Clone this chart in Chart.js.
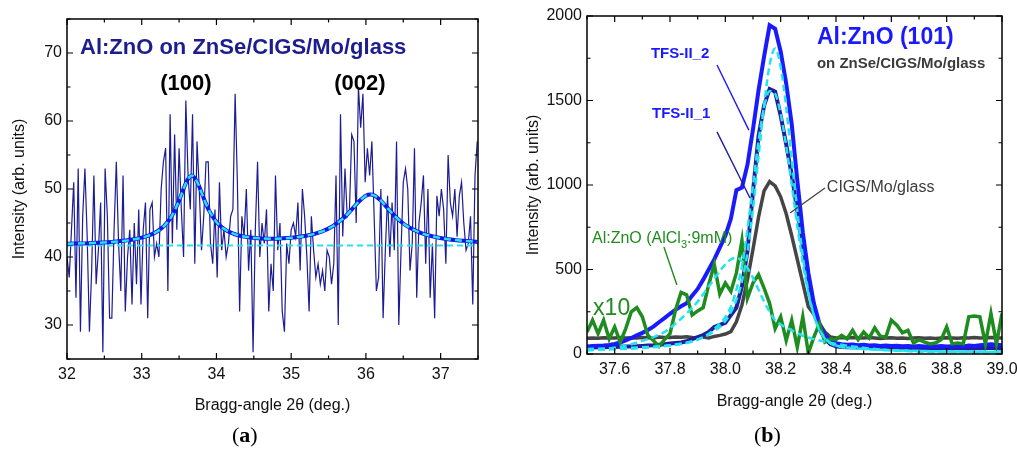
<!DOCTYPE html>
<html>
<head>
<meta charset="utf-8">
<script src="https://cdn.jsdelivr.net/npm/chart.js@4.4.0/dist/chart.umd.min.js"></script>
<style>
  html, body { margin: 0; padding: 0; background: #fff; }
  #wrap { position: relative; width: 1017px; height: 450px; overflow: hidden; }
  .box { position: absolute; top: 0; height: 450px; }
  #boxA { left: 0; width: 500px; }
  #boxB { left: 500px; width: 517px; }
  .tag { position: absolute; top: 424px; line-height: 22px; font-size: 22px;
         font-family: "Liberation Serif", "DejaVu Serif", serif; color: #000; }
</style>
</head>
<body>
<div id="wrap">
  <div class="box" id="boxA"><canvas id="chartA"></canvas></div>
  <div class="box" id="boxB"><canvas id="chartB"></canvas></div>
  <div class="tag" style="left:232px">(<b>a</b>)</div>
  <div class="tag" style="left:754px">(<b>b</b>)</div>
</div>
<script>
const FONT = "'Liberation Sans', Arial, sans-serif";

// ---- panel (a): Al:ZnO on ZnSe/CIGS/Mo/glass, 2theta 32..37.5, step 0.03
const stepA = 0.03;
const rawA = [
  40, 37, 44, 51, 34, 53, 29, 46, 53, 43,
  29, 38, 52, 36, 41, 48, 26, 53, 46, 31,
  31, 44, 54, 42, 35, 52, 32, 40, 44, 33,
  45, 36, 47, 33, 44, 48, 31, 47, 48, 40,
  42, 40, 50, 54, 56, 35, 61, 42, 58, 44,
  56, 47, 40, 63, 52, 47, 61, 39, 57, 50,
  41, 46, 54, 54, 42, 39, 47, 37, 51, 41,
  44, 40, 42, 46, 47, 64, 51, 32, 46, 43,
  50, 38, 44, 26, 44, 54, 40, 45, 42, 47,
  32, 39, 35, 52, 41, 45, 32, 29, 42, 39,
  44, 45, 43, 48, 38, 50, 46, 40, 32, 46,
  41, 37, 39, 36, 38, 35, 41, 40, 36, 39,
  52, 30, 61, 43, 53, 46, 47, 58, 57, 45,
  65, 59, 64, 51, 56, 52, 57, 46, 35, 37,
  50, 31, 41, 49, 40, 48, 41, 57, 30, 41,
  51, 53, 50, 38, 42, 56, 34, 45, 48, 52,
  39, 50, 34, 42, 31, 49, 46, 50, 47, 39,
  55, 48, 46, 50, 43, 49, 51, 45, 41, 42,
  46, 33, 52, 57
];
// two-peak fit (100) + (002)
const fitA = [
  [32.0, 41.94], [32.3, 42.04], [32.6, 42.22], [32.9, 42.60], [33.1, 43.18],
  [33.2, 43.71], [33.3, 44.57], [33.4, 45.99], [33.5, 48.29], [33.55, 49.73],
  [33.6, 51.08], [33.67, 51.98], [33.75, 50.87], [33.8, 49.47], [33.85, 48.07],
  [33.9, 46.86], [34.0, 45.15], [34.1, 44.14], [34.2, 43.54], [34.3, 43.17],
  [34.45, 42.87], [34.6, 42.73], [34.8, 42.70], [35.0, 42.82], [35.2, 43.12],
  [35.4, 43.71], [35.55, 44.48], [35.7, 45.72], [35.8, 46.85], [35.9, 48.09],
  [36.0, 49.01], [36.06, 49.19], [36.12, 49.01], [36.2, 48.29], [36.3, 47.07],
  [36.4, 45.88], [36.5, 44.93], [36.6, 44.22], [36.75, 43.48], [36.9, 43.02],
  [37.1, 42.62], [37.3, 42.38], [37.5, 42.22]
];
const baseA = 41.7;
const xTicksA = [32, 33, 34, 35, 36, 37];
const yTicksA = [30, 40, 50, 60, 70];

// ---- panel (b): Al:ZnO (101), 2theta 37.5..39.0, step 0.02
const stepB = 0.02;
const tfs2 = [
  45, 47, 49, 51, 54, 60, 68, 80, 95, 110,
  125, 142, 162, 188, 212, 238, 262, 282, 300, 345,
  385, 440, 500, 560, 630, 700, 800, 970, 985, 1120,
  1330, 1560, 1760, 1945, 1925, 1790, 1600, 1360, 1030, 720,
  480, 300, 180, 110, 78, 64, 58, 55, 56, 52,
  54, 50, 52, 48, 50, 47, 49, 46, 48, 45,
  47, 44, 46, 45, 47, 44, 46, 48, 45, 50,
  47, 52, 55, 58, 55, 52
];
const tfs1 = [
  38, 39, 40, 40, 41, 42, 43, 44, 45, 46,
  48, 50, 52, 55, 58, 62, 65, 68, 75, 88,
  100, 112, 130, 160, 172, 185, 230, 275, 400, 610,
  960, 1290, 1470, 1568, 1552, 1410, 1240, 1060, 850, 620,
  420, 260, 150, 88, 58, 46, 42, 40, 41, 38,
  39, 37, 38, 36, 37, 35, 36, 35, 34, 36,
  35, 34, 35, 33, 35, 34, 33, 35, 34, 33,
  35, 34, 36, 35, 34, 33
];
const cigs = [
  93, 95, 93, 96, 94, 95, 97, 95, 96, 94,
  97, 96, 95, 100, 97, 98, 101, 99, 102, 98,
  96, 100, 95, 104, 110, 118, 132, 190, 290, 440,
  620, 810, 965, 1020, 995, 930, 830, 700, 560, 420,
  280, 235, 180, 130, 100, 95, 97, 95, 98, 96,
  94, 97, 95, 92, 94, 96, 93, 95, 92, 94,
  96, 93, 95, 92, 94, 96, 95, 93, 96, 94,
  97, 95, 96, 98, 96, 95
];
const alcl3x10 = [
  130, 200, 120, 200, 90, 160, 70, 150, 250, 275,
  220, 110, 80, 45, 85, 120, 260, 365, 350, 230,
  255, 275, 410, 530, 355, 420, 370, 480, 670, 330,
  420, 470, 390, 300, 150, 220, 80, 200, 40, 220,
  5, 100, 180, 70, 90, 85, 110, 90, 140, 85,
  130, 95, 155, 105, 100, 200, 170, 125, 140, 65,
  85, 70, 60, 65, 85, 160, 60, 65, 60, 220,
  225, 220, 60, 240, 60, 240
];
const fitTfs2 = [
  [37.5, 30], [37.6, 34], [37.7, 40], [37.8, 52], [37.9, 85], [37.96, 135],
  [38.0, 195], [38.04, 320], [38.06, 430], [38.08, 600], [38.1, 860],
  [38.12, 1170], [38.14, 1470], [38.16, 1710], [38.18, 1808], [38.2, 1700],
  [38.22, 1460], [38.24, 1150], [38.26, 850], [38.28, 580], [38.3, 370],
  [38.32, 230], [38.34, 140], [38.36, 90], [38.38, 62], [38.4, 48],
  [38.5, 30], [38.6, 22], [38.8, 15], [39.0, 12]
];
const fitTfs1 = [
  [37.5, 25], [37.6, 28], [37.7, 35], [37.8, 50], [37.86, 65], [37.9, 85],
  [37.94, 120], [37.98, 180], [38.0, 220], [38.02, 280], [38.04, 380],
  [38.06, 520], [38.08, 740], [38.1, 1000], [38.12, 1260], [38.14, 1460],
  [38.16, 1555], [38.18, 1540], [38.2, 1420], [38.22, 1230], [38.24, 1000],
  [38.26, 760], [38.28, 540], [38.3, 360], [38.32, 230], [38.34, 145],
  [38.36, 95], [38.38, 65], [38.4, 50], [38.5, 30], [38.6, 22], [38.8, 15], [39.0, 12]
];
const fitAlcl3 = [
  [37.5, 20], [37.54, 25], [37.58, 32], [37.62, 43], [37.66, 58], [37.7, 78],
  [37.74, 100], [37.78, 130], [37.82, 180], [37.86, 240], [37.9, 310],
  [37.94, 400], [37.98, 490], [38.0, 530], [38.02, 560], [38.04, 570],
  [38.06, 550], [38.08, 510], [38.1, 450], [38.12, 380], [38.14, 310],
  [38.16, 250], [38.18, 200], [38.2, 175], [38.24, 140], [38.28, 108],
  [38.32, 88], [38.36, 73], [38.4, 60], [38.46, 45], [38.52, 33],
  [38.6, 22], [38.7, 14], [38.8, 11], [39.0, 8]
];
const xTicksB = [37.6, 37.8, 38.0, 38.2, 38.4, 38.6, 38.8, 39.0];
const yTicksB = [0, 500, 1000, 1500, 2000];

const NAVY = '#1c1c94', FITBLUE = '#1515e8', CYAN = '#26e2f0';
const BLUE = '#1a1aff', DKBLUE = '#1f1f9e', GRAY = '#454545', GREEN = '#1e8c1e';

Chart.defaults.font.family = FONT;
Chart.defaults.color = '#111';
Chart.defaults.elements.point.radius = 0;
Chart.defaults.elements.line.tension = 0;

const onGrid = (ys, x0, step) => ys.map((v, i) => ({x: +(x0 + i * step).toFixed(3), y: v}));
const pairs = arr => arr.map(p => ({x: p[0], y: p[1]}));

// frame with inward major/minor ticks on all four sides
const boxTicks = {
  id: 'boxTicks',
  afterDatasetsDraw(chart, args, o) {
    const {ctx, chartArea: a, scales: {x, y}} = chart;
    const isMajor = (v, m) => Math.abs(v / m - Math.round(v / m)) < 1e-6;
    ctx.save();
    ctx.strokeStyle = '#000';
    ctx.lineWidth = 1.2;
    ctx.beginPath();
    for (let i = 0; ; i++) {
      const v = x.min + i * o.xMinor;
      if (v > x.max + 1e-9) break;
      const px = x.getPixelForValue(v);
      const len = isMajor(v, o.xMajor) ? 6 : 3.5;
      ctx.moveTo(px, a.bottom); ctx.lineTo(px, a.bottom - len);
      ctx.moveTo(px, a.top); ctx.lineTo(px, a.top + len);
    }
    for (let i = 0; ; i++) {
      const v = y.min + i * o.yMinor;
      if (v > y.max + 1e-9) break;
      const py = y.getPixelForValue(v);
      const len = isMajor(v, o.yMajor) ? 6 : 3.5;
      ctx.moveTo(a.left, py); ctx.lineTo(a.left + len, py);
      ctx.moveTo(a.right, py); ctx.lineTo(a.right - len, py);
    }
    ctx.stroke();
    ctx.lineWidth = 1.5;
    ctx.strokeRect(a.left, a.top, a.right - a.left, a.bottom - a.top);
    ctx.restore();
  }
};

// labels and pointer lines, placed in data coordinates
const notes = {
  id: 'notes',
  afterDraw(chart, args, o) {
    const {ctx, scales: {x, y}} = chart;
    ctx.save();
    (o.lines || []).forEach(l => {
      ctx.strokeStyle = l.color;
      ctx.lineWidth = 1.4;
      ctx.beginPath();
      ctx.moveTo(x.getPixelForValue(l.from[0]), y.getPixelForValue(l.from[1]));
      ctx.lineTo(x.getPixelForValue(l.to[0]), y.getPixelForValue(l.to[1]));
      ctx.stroke();
    });
    (o.texts || []).forEach(t => {
      ctx.fillStyle = t.color;
      ctx.textBaseline = 'alphabetic';
      ctx.textAlign = t.align || 'left';
      let px = x.getPixelForValue(t.x);
      const py = y.getPixelForValue(t.y);
      const parts = t.parts || [{s: t.text}];
      parts.forEach(p => {
        if (p.sub) {
          ctx.font = t.subFont;
          ctx.fillText(p.s, px, py + 5);
        } else {
          ctx.font = t.font;
          ctx.fillText(p.s, px, py);
        }
        px += ctx.measureText(p.s).width;
      });
    });
    ctx.restore();
  }
};

function xAxis(min, max, ticks, fmt, height, titlePad) {
  return {
    type: 'linear', min, max,
    afterBuildTicks: s => { s.ticks = ticks.map(v => ({value: v})); },
    afterFit: s => { s.height = height; s.paddingLeft = 0; s.paddingRight = 0; },
    grid: {display: false, drawTicks: false},
    border: {display: false},
    ticks: {font: {size: 16}, color: '#111', padding: 6, autoSkip: false, maxRotation: 0, callback: fmt},
    title: {display: true, text: 'Bragg-angle 2θ (deg.)', font: {size: 16}, color: '#111',
            padding: {top: 0, bottom: titlePad}}
  };
}
function yAxis(min, max, ticks, width, titlePad) {
  return {
    type: 'linear', min, max,
    afterBuildTicks: s => { s.ticks = ticks.map(v => ({value: v})); },
    afterFit: s => { s.width = width; s.paddingTop = 0; s.paddingBottom = 0; },
    grid: {display: false, drawTicks: false},
    border: {display: false},
    ticks: {font: {size: 16}, color: '#111', padding: 5, autoSkip: false, callback: v => String(v)},
    title: {display: true, text: 'Intensity (arb. units)', font: {size: 16}, color: '#111',
            padding: {top: titlePad, bottom: 0}}
  };
}

new Chart(document.getElementById('chartA'), {
  type: 'line',
  data: {
    datasets: [
      {data: pairs(fitA), borderColor: CYAN, borderWidth: 2.5, borderDash: [7, 4], cubicInterpolationMode: 'monotone'},
      {data: pairs(fitA), borderColor: FITBLUE, borderWidth: 4, cubicInterpolationMode: 'monotone'},
      {data: [{x: 32, y: baseA}, {x: 37.5, y: baseA}], borderColor: CYAN, borderWidth: 2, borderDash: [6, 4]},
      {data: onGrid(rawA, 32, stepA), borderColor: NAVY, borderWidth: 1.2}
    ]
  },
  options: {
    responsive: true, maintainAspectRatio: false, animation: false, events: [],
    layout: {padding: {left: 0, top: 19, right: 22, bottom: 0}},
    scales: {
      x: xAxis(32, 37.5, xTicksA, v => String(v), 91, 35),
      y: yAxis(25, 75, yTicksA, 67, 10)
    },
    plugins: {
      legend: {display: false}, tooltip: {enabled: false},
      boxTicks: {xMinor: 0.5, xMajor: 1, yMinor: 5, yMajor: 10},
      notes: {
        texts: [
          {text: 'Al:ZnO on ZnSe/CIGS/Mo/glass', x: 32.174, y: 69.9, font: 'bold 22px ' + FONT, color: '#1d1d8f'},
          {text: '(100)', x: 33.59, y: 64.6, align: 'center', font: 'bold 22px ' + FONT, color: '#000'},
          {text: '(002)', x: 35.92, y: 64.6, align: 'center', font: 'bold 22px ' + FONT, color: '#000'}
        ]
      }
    }
  },
  plugins: [boxTicks, notes]
});

new Chart(document.getElementById('chartB'), {
  type: 'line',
  data: {
    datasets: [
      {data: pairs(fitTfs2), borderColor: CYAN, borderWidth: 2.5, borderDash: [7, 4], cubicInterpolationMode: 'monotone'},
      {data: pairs(fitTfs1), borderColor: CYAN, borderWidth: 2.5, borderDash: [7, 4], cubicInterpolationMode: 'monotone'},
      {data: pairs(fitAlcl3), borderColor: CYAN, borderWidth: 2.5, borderDash: [7, 4], cubicInterpolationMode: 'monotone'},
      {data: onGrid(alcl3x10, 37.5, stepB), borderColor: GREEN, borderWidth: 3.5},
      {data: onGrid(tfs2, 37.5, stepB), borderColor: BLUE, borderWidth: 4},
      {data: onGrid(tfs1, 37.5, stepB), borderColor: DKBLUE, borderWidth: 4},
      {data: onGrid(cigs, 37.5, stepB), borderColor: GRAY, borderWidth: 3.5}
    ]
  },
  options: {
    responsive: true, maintainAspectRatio: false, animation: false, events: [],
    layout: {padding: {left: 0, top: 16, right: 15, bottom: 0}},
    scales: {
      x: xAxis(37.5, 39.0, xTicksB, v => v.toFixed(1), 96, 39),
      y: yAxis(0, 2000, yTicksB, 87, 24)
    },
    plugins: {
      legend: {display: false}, tooltip: {enabled: false},
      boxTicks: {xMinor: 0.1, xMajor: 0.2, yMinor: 250, yMajor: 500},
      notes: {
        lines: [
          {from: [37.970, 1710], to: [38.085, 1325], color: BLUE},
          {from: [37.970, 1314], to: [38.089, 923], color: DKBLUE},
          {from: [38.360, 982], to: [38.234, 834], color: GRAY},
          {from: [37.778, 633], to: [37.825, 408], color: GREEN}
        ],
        texts: [
          {text: 'Al:ZnO (101)', x: 38.331, y: 1835, font: 'bold 23px ' + FONT, color: BLUE},
          {text: 'on ZnSe/CIGS/Mo/glass', x: 38.331, y: 1692, font: 'bold 15px ' + FONT, color: '#3c3c3c'},
          {text: 'TFS-II_2', x: 37.731, y: 1752, font: 'bold 15px ' + FONT, color: BLUE},
          {text: 'TFS-II_1', x: 37.735, y: 1396, font: 'bold 15px ' + FONT, color: BLUE},
          {text: 'CIGS/Mo/glass', x: 38.367, y: 959, font: '16px ' + FONT, color: '#3c3c3c'},
          {parts: [{s: 'Al:ZnO (AlCl'}, {s: '3', sub: true}, {s: ':9mM)'}], x: 37.518, y: 657,
           font: '16px ' + FONT, subFont: '11px ' + FONT, color: GREEN},
          {text: 'x10', x: 37.522, y: 231, font: '23px ' + FONT, color: GREEN}
        ]
      }
    }
  },
  plugins: [boxTicks, notes]
});
</script>
</body>
</html>
